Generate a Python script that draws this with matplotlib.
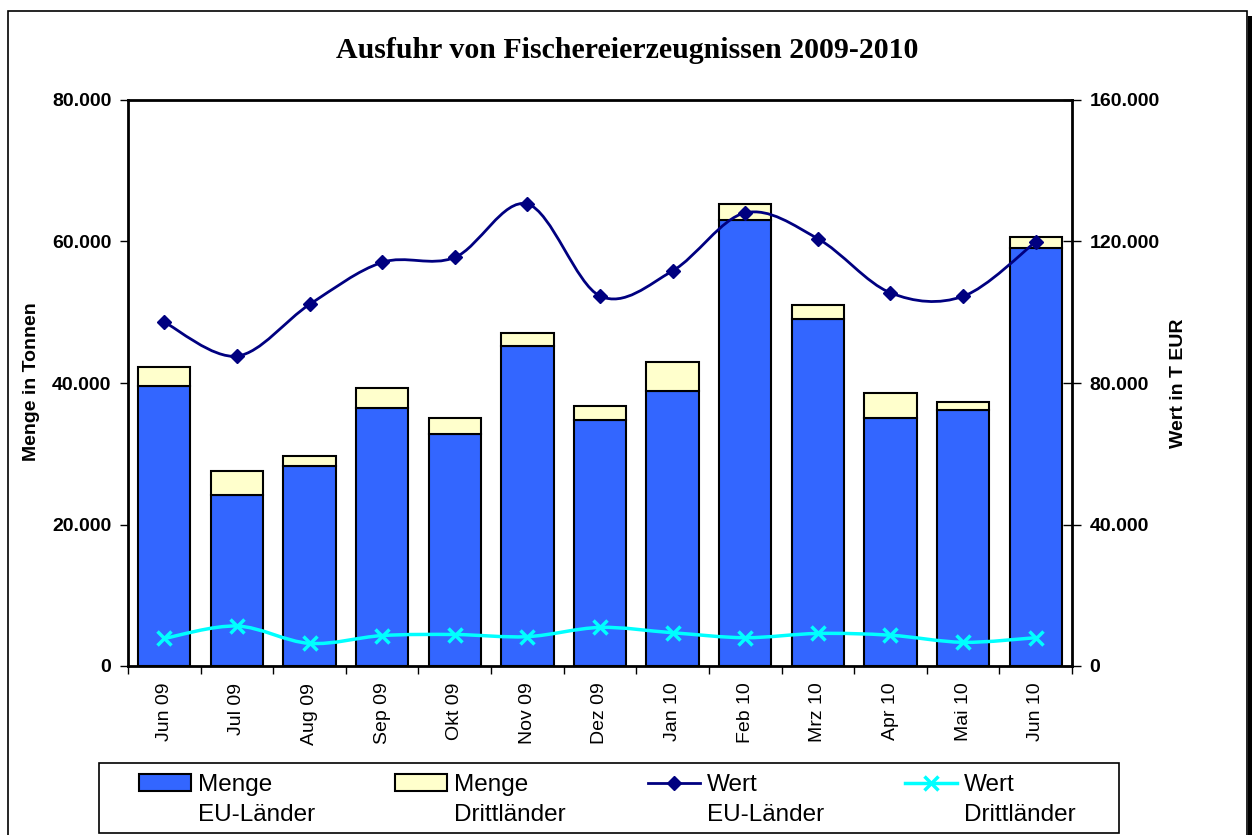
import numpy as np
import matplotlib
matplotlib.use('Agg')
import matplotlib.pyplot as plt
from matplotlib.path import Path
from matplotlib.patches import PathPatch, Rectangle, Patch
from matplotlib.lines import Line2D
from matplotlib.ticker import FuncFormatter, FixedLocator

months = ['Jun 09', 'Jul 09', 'Aug 09', 'Sep 09', 'Okt 09', 'Nov 09', 'Dez 09',
          'Jan 10', 'Feb 10', 'Mrz 10', 'Apr 10', 'Mai 10', 'Jun 10']
# Menge in Tonnen
menge_eu = [39600, 24100, 28300, 36500, 32750, 45200, 34750, 38850, 63100, 49000, 35000, 36150, 59100]
menge_dritt = [2650, 3500, 1400, 2750, 2250, 1850, 2050, 4050, 2150, 2000, 3650, 1150, 1500]
# Wert in T EUR
wert_eu = [97200, 87600, 102200, 114100, 115500, 130600, 104600, 111700, 128100, 120800, 105500, 104500, 119900]
wert_dritt = [7800, 11300, 6400, 8600, 8900, 8300, 10900, 9400, 8000, 9200, 8700, 6700, 8000]

BLUE = '#3366FF'
YELLOW = '#FFFFCC'
NAVY = '#000080'
CYAN = '#00FFFF'
SANS = 'Liberation Sans'
W, H = 1252, 835


def smooth_path(x, y):
    # Bezier segments through the points (Excel style smoothed line)
    n = len(x)
    verts = [(x[0], y[0])]
    codes = [Path.MOVETO]
    for i in range(n - 1):
        a = i - 1 if i > 0 else i
        b = i + 2 if i + 2 < n else i + 1
        c1 = (x[i] + (x[i + 1] - x[a]) / 6, y[i] + (y[i + 1] - y[a]) / 6)
        c2 = (x[i + 1] - (x[b] - x[i]) / 6, y[i + 1] - (y[b] - y[i]) / 6)
        verts += [c1, c2, (x[i + 1], y[i + 1])]
        codes += [Path.CURVE4] * 3
    return Path(verts, codes)


def de_fmt(v, pos):
    return f'{v:,.0f}'.replace(',', '.')


fig = plt.figure(figsize=(W / 100, H / 100), dpi=100)

# outer chart frame with shadow on the right
fig.patches.append(Rectangle((8 / W, -0.05), 1239 / W, 1.05 - 11 / H,
                             transform=fig.transFigure, fill=False, ec='black', lw=1.2))
fig.patches.append(Rectangle((1248 / W, -0.05), 5 / W, 1.05 - 16 / H,
                             transform=fig.transFigure, fc='black', ec='none'))

ax = fig.add_axes([128 / W, 1 - 666 / H, 944 / W, 566 / H])
ax2 = ax.twinx()

x = np.arange(len(months))
ax.bar(x, menge_eu, width=0.72, color=BLUE, edgecolor='black', linewidth=1.5)
ax.bar(x, menge_dritt, width=0.72, bottom=menge_eu, color=YELLOW, edgecolor='black', linewidth=1.5)

ax2.add_patch(PathPatch(smooth_path(x, wert_eu), fill=False, ec=NAVY, lw=2))
ax2.plot(x, wert_eu, ls='none', marker='D', ms=7.5, color=NAVY)
ax2.add_patch(PathPatch(smooth_path(x, wert_dritt), fill=False, ec=CYAN, lw=2.5))
ax2.plot(x, wert_dritt, ls='none', marker='x', ms=10, mew=2.5, color=CYAN)

ax.set_xlim(-0.5, len(months) - 0.5)
ax.set_ylim(0, 80000)
ax2.set_ylim(0, 160000)

ax.set_yticks([0, 20000, 40000, 60000, 80000])
ax2.set_yticks([0, 40000, 80000, 120000, 160000])
ax.yaxis.set_major_formatter(FuncFormatter(de_fmt))
ax2.yaxis.set_major_formatter(FuncFormatter(de_fmt))

ax.set_xticks(x)
ax.set_xticklabels(months, rotation=90, fontsize=14, family=SANS)
ax.xaxis.set_minor_locator(FixedLocator(np.arange(-0.5, len(months), 1)))
ax.tick_params(axis='x', which='major', length=0, pad=12)
ax.tick_params(axis='x', which='minor', length=6, width=1, direction='out')
ax.tick_params(axis='y', length=6, width=1, direction='out', pad=6)
ax2.tick_params(axis='y', length=13, width=1, direction='inout', pad=6)

for lab in ax.get_yticklabels() + ax2.get_yticklabels():
    lab.set_fontsize(14)
    lab.set_fontweight('bold')
    lab.set_family(SANS)

for sp in ['left', 'top', 'bottom']:
    ax.spines[sp].set_linewidth(2)
ax2.spines['right'].set_linewidth(2)
for sp in ['left', 'top', 'bottom']:
    ax2.spines[sp].set_visible(False)
ax.spines['right'].set_visible(False)

ax.set_ylabel('Menge in Tonnen', fontsize=14, fontweight='bold', family=SANS)
ax.yaxis.set_label_coords(-0.0935, 0.503)
ax2.set_ylabel('Wert in T EUR', fontsize=14, fontweight='bold', family=SANS)
ax2.yaxis.set_label_coords(1.104, 0.50)

fig.text(0.5008, 1 - 51 / H, 'Ausfuhr von Fischereierzeugnissen 2009-2010',
         ha='center', va='center', fontsize=21.5, fontweight='bold', family='Liberation Serif')

# legend: one small legend per column, second label line placed under the first
fig.patches.append(Rectangle((99 / W, 1 - 833 / H), 1020 / W, 70 / H,
                             transform=fig.transFigure, fill=False, ec='black', lw=1.2))
handles = [
    Patch(facecolor=BLUE, edgecolor='black', linewidth=1.5),
    Patch(facecolor=YELLOW, edgecolor='black', linewidth=1.5),
    Line2D([], [], color=NAVY, lw=2, marker='D', ms=7.5),
    Line2D([], [], color=CYAN, lw=2.5, marker='x', ms=10, mew=2.5),
]
first_line = ['Menge', 'Menge', 'Wert', 'Wert']
second_line = ['EU-Länder', 'Drittländer', 'EU-Länder', 'Drittländer']
col_x = [139, 395, 648, 905]
fs = 17.5
em = fs * 100 / 72
legs = []
for h, lab, cx in zip(handles, first_line, col_x):
    lg = fig.legend([h], [lab], loc='upper left', bbox_to_anchor=(cx / W, 1 - 774 / H),
                    prop={'family': SANS, 'size': fs}, frameon=False,
                    handlelength=52 / em, handleheight=0.66, handletextpad=7 / em,
                    borderpad=0, borderaxespad=0)
    legs.append(lg)
fig.canvas.draw()
for lg, sub in zip(legs, second_line):
    bb = lg.get_texts()[0].get_window_extent()
    fig.text(bb.x0 / W, bb.y0 / H - 30 / H, sub, fontsize=fs, family=SANS, ha='left', va='bottom')

fig.savefig('out.png', dpi=100)
